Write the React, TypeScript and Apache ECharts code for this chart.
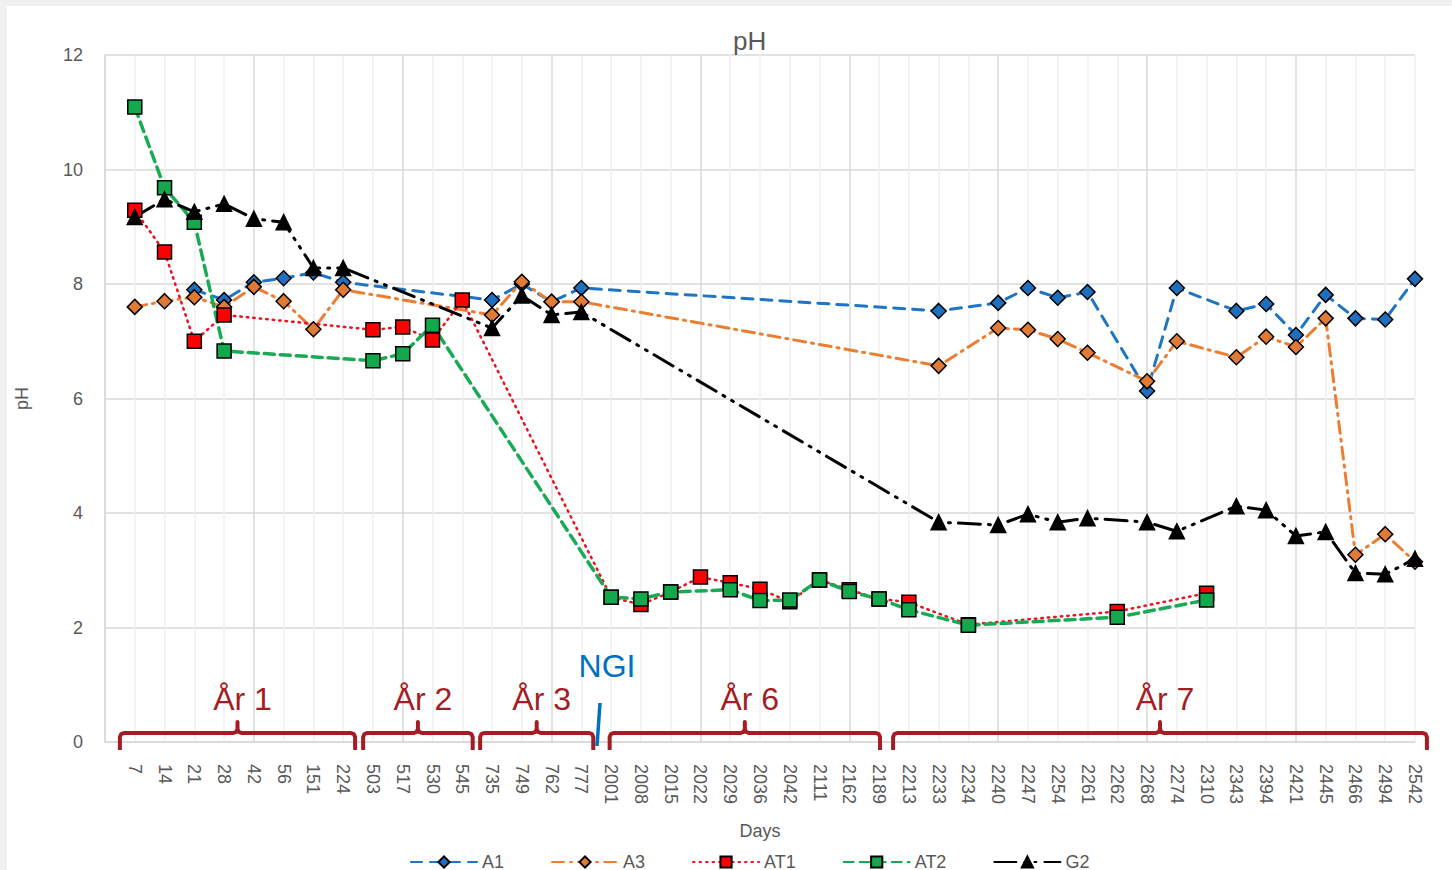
import React, { useEffect, useRef } from "react";
import * as echarts from "echarts";

const categories = [
  "", "7", "14", "21", "28", "42", "56", "151", "224", "503", "517", "530", "545",
  "735", "749", "762", "777", "2001", "2008", "2015", "2022", "2029", "2036", "2042",
  "2111", "2162", "2189", "2213", "2233", "2234", "2240", "2247", "2254", "2261",
  "2262", "2268", "2274", "2310", "2343", "2394", "2421", "2445", "2466", "2494", "2542",
];

const A1 = [
  null, null, null, 7.9, 7.72, 8.03, 8.1, 8.2, 8.03, null, null, null, null,
  7.72, 8.0, 7.69, 7.93, null, null, null, null, null, null, null,
  null, null, null, null, 7.53, null, 7.67, 7.93, 7.76, 7.86,
  null, 6.13, 7.93, null, 7.53, 7.65, 7.11, 7.81, 7.4, 7.38, 8.09,
];
const A3 = [
  null, 7.6, 7.7, 7.77, 7.6, 7.95, 7.7, 7.21, 7.9, null, null, null, null,
  7.46, 8.04, 7.69, 7.69, null, null, null, null, null, null, null,
  null, null, null, null, 6.57, null, 7.23, 7.2, 7.04, 6.8,
  null, 6.3, 7.0, null, 6.72, 7.08, 6.9, 7.4, 3.27, 3.63, 3.15,
];
const AT1 = [
  null, 9.29, 8.56, 7.0, 7.46, null, null, null, null, 7.2, 7.25, 7.02, 7.72,
  null, null, null, null, 2.53, 2.4, 2.62, 2.88, 2.78, 2.67, 2.45,
  2.83, 2.66, 2.5, 2.44, null, 2.05, null, null, null, null,
  2.28, null, null, 2.6, null, null, null, null, null, null, null,
];
const AT2 = [
  null, 11.09, 9.68, 9.08, 6.83, null, null, null, null, 6.66, 6.78, 7.28, null,
  null, null, null, null, 2.53, 2.5, 2.62, null, 2.66, 2.47, 2.48,
  2.83, 2.63, 2.5, 2.31, null, 2.04, null, null, null, null,
  2.18, null, null, 2.48, null, null, null, null, null, null, null,
];
const G2 = [
  null, 9.17, 9.48, 9.26, 9.4, 9.14, 9.08, 8.28, 8.28, null, null, null, null,
  7.23, 7.8, 7.46, 7.51, null, null, null, null, null, null, null,
  null, null, null, null, 3.84, null, 3.79, 3.98, 3.84, 3.91,
  null, 3.84, 3.68, null, 4.12, 4.05, 3.6, 3.67, 2.95, 2.93, 3.2,
];

const yearLabels = ["År 1", "År 2", "År 3", "År 6", "År 7"];
const yearStart = [0.5, 8.67, 12.6, 16.95, 26.47];
const yearEnd = [8.4, 12.35, 16.4, 26.03, 44.4];

const FONT = "'Liberation Sans', Arial, sans-serif";
const GRAY = "#595959";
const BRACKET = "#a51d24";

// inner chart area offsets (white panel inside gray frame)
const GRID_LEFT = 98;
const GRID_TOP = 49;
const GRID_W = 1310;
const GRID_H = 687;

export default function App() {
  const ref = useRef<HTMLDivElement>(null);

  useEffect(() => {
    if (!ref.current) return;
    const chart = echarts.init(ref.current, null, { renderer: "svg" });
    const step = GRID_W / (categories.length - 1);
    const px = (i: number) => GRID_LEFT + i * step;

    const yh = 727;
    const yb = 744;
    const ytop = 716;
    const graphics: any[] = [];
    yearLabels.forEach((lab, k) => {
      const x1 = px(yearStart[k]);
      const x2 = px(yearEnd[k]);
      const mid = (x1 + x2) / 2;
      graphics.push({
        type: "polyline",
        shape: {
          points: [
            [x1, yb], [x1, yh + 4], [x1 + 1.2, yh + 1.2], [x1 + 4, yh],
            [mid - 4, yh], [mid - 1.2, yh - 1.2], [mid, yh - 4], [mid, ytop],
            [mid, yh - 4], [mid + 1.2, yh - 1.2], [mid + 4, yh],
            [x2 - 4, yh], [x2 - 1.2, yh + 1.2], [x2, yh + 4], [x2, yb],
          ],
        },
        style: { stroke: BRACKET, lineWidth: 4, fill: null, lineJoin: "round" },
        z: 10,
      });
      graphics.push({
        type: "text",
        x: mid + 5,
        y: 693,
        style: {
          text: lab,
          fill: BRACKET,
          font: `32px ${FONT}`,
          textAlign: "center",
          textVerticalAlign: "middle",
        },
        z: 10,
      });
    });
    graphics.push({
      type: "text",
      x: 600,
      y: 660,
      style: {
        text: "NGI",
        fill: "#0070c0",
        font: `32px ${FONT}`,
        textAlign: "center",
        textVerticalAlign: "middle",
      },
      z: 10,
    });
    graphics.push({
      type: "line",
      shape: { x1: 593, y1: 697, x2: 590, y2: 740 },
      style: { stroke: "#0070c0", lineWidth: 3.5 },
      z: 10,
    });

    const mk = (
      name: string,
      data: (number | null)[],
      color: string,
      markerColor: string,
      symbol: string,
      size: number,
      width: number,
      type: any
    ) => ({
      name,
      type: "line",
      data,
      connectNulls: true,
      symbol,
      symbolSize: size,
      itemStyle: { color: markerColor, borderColor: "#000", borderWidth: 1.5 },
      lineStyle: { color, width, type, cap: "round" },
    });

    chart.setOption({
      animation: false,
      backgroundColor: "#ffffff",
      title: {
        text: "pH",
        left: 726,
        top: 22,
        padding: 0,
        textStyle: { color: GRAY, fontSize: 26, fontWeight: "normal", fontFamily: FONT },
      },
      legend: {
        left: 403,
        top: 847,
        itemWidth: 66,
        itemHeight: 14,
        itemGap: 47,
        padding: 0,
        textStyle: { color: GRAY, fontSize: 18, fontFamily: FONT },
        data: ["A1", "A3", "AT1", "AT2", "G2"],
      },
      grid: {
        left: GRID_LEFT,
        top: GRID_TOP,
        width: GRID_W,
        height: GRID_H,
        containLabel: false,
        outerBoundsMode: "none",
      },
      xAxis: {
        type: "category",
        data: categories,
        boundaryGap: false,
        name: "Days",
        nameLocation: "middle",
        nameGap: 80,
        nameMoveOverlap: false,
        nameTextStyle: { color: GRAY, fontSize: 18, fontFamily: FONT },
        axisLine: { show: true, lineStyle: { color: "#d9d9d9", width: 1.5 } },
        axisTick: { show: false, interval: 0 },
        axisLabel: {
          interval: 0,
          rotate: -90,
          margin: 22,
          color: GRAY,
          fontSize: 18,
          fontFamily: FONT,
        },
        splitLine: {
          show: true,
          interval: 0,
          showMinLine: true,
          showMaxLine: true,
          lineStyle: {
            color: ["#d9d9d9", "#efefef", "#efefef", "#efefef", "#efefef"],
            width: 1.5,
          },
        },
      },
      yAxis: {
        type: "value",
        min: 0,
        max: 12,
        interval: 2,
        name: "pH",
        nameLocation: "middle",
        nameGap: 74,
        nameRotate: 90,
        nameMoveOverlap: false,
        nameTextStyle: { color: GRAY, fontSize: 18, fontFamily: FONT },
        axisLine: { show: true, lineStyle: { color: "#d9d9d9", width: 1.5 } },
        axisTick: { show: false },
        axisLabel: { color: GRAY, fontSize: 18, fontFamily: FONT, margin: 22 },
        splitLine: { show: true, lineStyle: { color: "#d9d9d9", width: 1.5 } },
      },
      series: [
        mk("A1", A1, "#1f74c4", "#1f6fbf", "diamond", 15, 3, [11, 8]),
        mk("A3", A3, "#ed7d31", "#e07b35", "diamond", 15, 3, [12, 6, 2, 6]),
        mk("AT1", AT1, "#ee1122", "#ff0000", "rect", 14, 2.5, [1.5, 5]),
        mk("AT2", AT2, "#1aaa55", "#14a84c", "rect", 14, 3.5, [10, 6]),
        mk("G2", G2, "#000000", "#000000", "triangle", 15, 3, [22, 8, 2, 8, 2, 8]),
      ],
      graphic: graphics,
    });

    return () => chart.dispose();
  }, []);

  return (
    <div
      style={{
        position: "fixed",
        left: 0,
        top: 0,
        width: 1452,
        height: 870,
        background: "#f0f0f0",
        overflow: "hidden",
      }}
    >
      <div
        ref={ref}
        style={{ position: "absolute", left: 7, top: 6, width: 1445, height: 864, background: "#fff" }}
      />
    </div>
  );
}
